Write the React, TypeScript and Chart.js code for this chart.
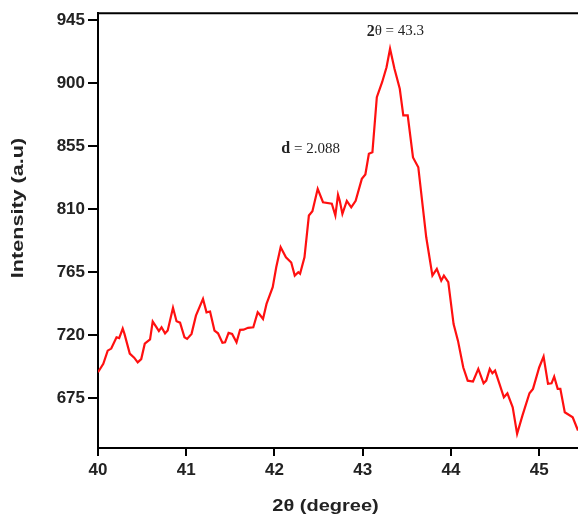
import React, { useEffect, useRef } from 'react';
import { Chart, registerables } from 'chart.js';

Chart.register(...registerables);

const TWO_THETA = [
  40.0, 40.06, 40.11, 40.15, 40.21, 40.24, 40.28, 40.3, 40.36, 40.41, 40.45, 40.49, 40.53, 40.59, 40.62,
  40.66, 40.69, 40.72, 40.76, 40.79, 40.85, 40.89, 40.93, 40.98, 41.01, 41.06, 41.11, 41.19, 41.23, 41.27,
  41.32, 41.36, 41.41, 41.44, 41.48, 41.52, 41.57, 41.61, 41.65, 41.7, 41.76, 41.81, 41.83, 41.87, 41.91,
  41.98, 42.02, 42.07, 42.13, 42.19, 42.23, 42.27, 42.29, 42.34, 42.39, 42.43, 42.49, 42.55, 42.65, 42.69,
  42.72, 42.74, 42.77, 42.82, 42.87, 42.92, 42.99, 43.03, 43.07, 43.11, 43.16, 43.22, 43.27, 43.31, 43.36,
  43.42, 43.46, 43.51, 43.57, 43.63, 43.72, 43.79, 43.84, 43.89, 43.92, 43.97, 44.03, 44.08, 44.14, 44.19,
  44.25, 44.31, 44.37, 44.4, 44.44, 44.47, 44.5, 44.55, 44.6, 44.64, 44.7, 44.75, 44.81, 44.89, 44.93,
  45.0, 45.05, 45.1, 45.14, 45.17, 45.21, 45.24, 45.29, 45.38, 45.44,
];

const INTENSITY = [
  693.6, 699.6, 709, 710.5, 718.6, 718, 724.8, 721, 706.9, 704, 700.7, 703, 714, 717, 729.8,
  726, 723, 725.7, 721.4, 723.4, 739.6, 730, 729, 718.6, 717.4, 721, 734, 746, 736.4, 737,
  723.4, 721.4, 714.6, 715, 721.7, 721, 715, 723.9, 724, 725.3, 725.7, 736.4, 735, 731.7, 742.4,
  754.3, 768.6, 782.9, 775.7, 772, 762.6, 765, 763.9, 775.7, 805.5, 808.6, 824.6, 815, 813.9, 805.5,
  820.3, 816, 806.7, 816, 811.4, 816, 831.7, 834.8, 849.6, 850.7, 890, 900.7, 911.4, 924.6, 910.3,
  896, 877, 877, 847, 840, 790, 762.6, 767.4, 759, 762.6, 757.9, 728, 716, 697, 687.6,
  687, 696, 685.7, 687.6, 696, 692.9, 694.8, 685.3, 675.7, 678.6, 668.6, 649.6, 662.6, 678.6, 681.7,
  697, 704.8, 685.3, 685.7, 690.5, 681.7, 681.7, 665, 661.4, 652,
];

const X_TICKS = [40, 41, 42, 43, 44, 45];
const Y_TICKS = [675, 720, 765, 810, 855, 900, 945];
const X_TITLE = '2θ (degree)';
const Y_TITLE = 'Intensity (a.u)';
const PEAK_NOTE = { x: 43.37, y: 937, bold: '2', rest: 'θ = 43.3' };
const D_NOTE = { x: 42.41, y: 853, bold: 'd', rest: ' = 2.088' };

const overlayPlugin = {
  id: 'overlay',
  afterDraw(chart: any) {
    const { ctx, chartArea, scales } = chart;
    ctx.save();
    // top frame line
    ctx.strokeStyle = '#000';
    ctx.lineWidth = 2;
    ctx.beginPath();
    ctx.moveTo(chartArea.left, chartArea.top);
    ctx.lineTo(chartArea.right, chartArea.top);
    ctx.stroke();

    // annotations
    const notes = [PEAK_NOTE, D_NOTE];
    for (const n of notes) {
      const px = scales.x.getPixelForValue(n.x);
      const py = scales.y.getPixelForValue(n.y);
      const boldFont = 'bold 16px "Liberation Serif", serif';
      const restFont = '15px "Liberation Serif", serif';
      ctx.font = boldFont;
      const wb = ctx.measureText(n.bold).width;
      ctx.font = restFont;
      const wr = ctx.measureText(n.rest).width;
      const x0 = px - (wb + wr) / 2;
      ctx.fillStyle = '#222';
      ctx.textBaseline = 'middle';
      ctx.textAlign = 'left';
      ctx.font = boldFont;
      ctx.fillText(n.bold, x0, py);
      ctx.font = restFont;
      ctx.fillText(n.rest, x0 + wb, py);
    }

    // axis titles
    ctx.fillStyle = '#222';
    ctx.font = 'bold 16px "Liberation Sans", Arial, sans-serif';
    ctx.textAlign = 'center';
    ctx.textBaseline = 'middle';
    ctx.save();
    ctx.translate(325.5, 507);
    ctx.scale(1.25, 1);
    ctx.fillText(X_TITLE, 0, 0);
    ctx.restore();
    ctx.translate(19, 208);
    ctx.rotate(-Math.PI / 2);
    ctx.scale(1.35, 1);
    ctx.fillText(Y_TITLE, 0, 0);
    ctx.restore();
  },
};

export default function App() {
  const canvasRef = useRef<HTMLCanvasElement | null>(null);

  useEffect(() => {
    const canvas = canvasRef.current;
    if (!canvas) return;
    const points = TWO_THETA.map((x, i) => ({ x, y: INTENSITY[i] }));
    const tickFont = { family: '"Liberation Sans", Arial, sans-serif', size: 17, weight: 'bold' as const };
    const chart = new Chart(canvas, {
      type: 'line',
      data: {
        datasets: [
          {
            data: points,
            borderColor: '#ff1010',
            borderWidth: 2.2,
            pointRadius: 0,
            tension: 0,
            fill: false,
          },
        ],
      },
      options: {
        animation: false,
        responsive: true,
        maintainAspectRatio: false,
        layout: { padding: { top: 12, right: 0, left: 0, bottom: 0 } },
        plugins: { legend: { display: false }, tooltip: { enabled: false } },
        scales: {
          x: {
            type: 'linear',
            min: 40,
            max: 45.44,
            afterBuildTicks: (scale: any) => {
              scale.ticks = X_TICKS.map((v) => ({ value: v }));
            },
            afterFit: (scale: any) => {
              scale.height = 70;
            },
            border: { display: true, color: '#000', width: 2 },
            grid: { drawOnChartArea: false, drawTicks: true, tickLength: 8, color: '#000', lineWidth: 2 },
            ticks: { color: '#222', font: tickFont, padding: 4, maxRotation: 0, autoSkip: false },
          },
          y: {
            type: 'linear',
            min: 639.5,
            max: 950,
            afterBuildTicks: (scale: any) => {
              scale.ticks = Y_TICKS.map((v) => ({ value: v }));
            },
            afterFit: (scale: any) => {
              scale.width = 98;
            },
            border: { display: true, color: '#000', width: 2 },
            grid: { drawOnChartArea: false, drawTicks: true, tickLength: 10, color: '#000', lineWidth: 2 },
            ticks: { color: '#222', font: tickFont, padding: 3, autoSkip: false },
          },
        },
      },
      plugins: [overlayPlugin],
    });
    return () => chart.destroy();
  }, []);

  return (
    <div style={{ position: 'fixed', left: 0, top: 0, width: 578, height: 518, background: '#fff' }}>
      <canvas ref={canvasRef} />
    </div>
  );
}
